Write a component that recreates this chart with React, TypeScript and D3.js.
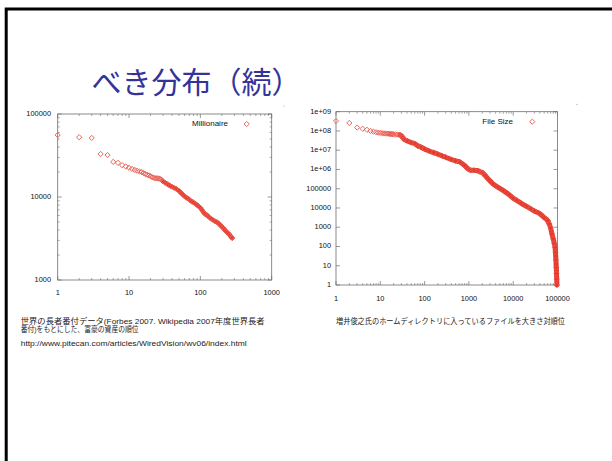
import React from "react";
import * as d3 from "d3";

const W = 612;
const H = 461;

// Millionaire (rank, assets)
const milRanks = [1,2,3,4,5,6,7,8,9,10,11,12,13,14,15,16,17,18,19,20,21,22,23,24,25,26,27,28,29,30,
  32,34,36,38,40,43,46,50,53,56,60,64,68,72,76,80,85,90,95,100,105,110,115,120,125,130,140,150,160,170,
  180,190,200,210,220,230,240,250,260,270,276,280];
const milValues = [55800,52500,51500,33000,32000,26500,25800,24200,23300,22500,21800,21200,20700,20300,20000,
  19400,18900,18500,18200,17800,17400,17100,16900,16800,16800,16700,16600,16300,15900,15400,
  14900,14400,14000,13600,13300,12900,12500,11900,11300,10800,10200,9800,9500,9100,8800,8600,8300,8000,7700,7400,
  7000,6600,6300,6100,6000,5800,5500,5300,5100,5000,4800,4600,4400,4200,4000,3850,3700,3600,3450,3300,3250,3200];

// File size (rank, bytes)
const fileRanks = [1,2,3,4,5,6,7,8,9,10,11,12,13,14,15,16,17,18,19,20,22,24,26,28,30,32,35,40,50,60,70,80,100,
  130,160,200,250,300,400,500,630,800,1000,1100,1300,1600,1800,2000,2300,2800,3500,4500,6000,8000,10000,12000,
  15000,20000,25000,30000,40000,50000,60000,65000,70000,75000,80000,85000,88000,90000,92000,94000,95000,96000,97000];
const fileValues = [3.3e8,2.6e8,1.5e8,1.3e8,1.15e8,1.0e8,9.2e7,8.6e7,8.2e7,7.9e7,7.7e7,7.5e7,7.4e7,7.3e7,7.2e7,7.1e7,
  7.0e7,6.9e7,6.8e7,6.7e7,6.6e7,6.5e7,6.4e7,6.2e7,5.6e7,4.6e7,3.6e7,3.1e7,2.5e7,2.2e7,1.7e7,1.5e7,1.15e7,
  8.8e6,7.5e6,6.2e6,5.0e6,4.3e6,3.3e6,2.8e6,2.4e6,1.6e6,1.0e6,9.0e5,9.0e5,8.6e5,7.5e5,7.0e5,5.0e5,3.0e5,1.8e5,1.2e5,
  8.0e4,5.0e4,3.2e4,2.5e4,1.8e4,1.2e4,9.0e3,7.0e3,5.0e3,3.2e3,2.2e3,1.5e3,900,450,250,140,90,50,20,8,4,2,1];

const milXTicks = [1, 10, 100, 1000];
const milXLabels = ["1", "10", "100", "1000"];
const milYTicks = [1000, 10000, 100000];
const milYLabels = ["1000", "10000", "100000"];

const fileXTicks = [1, 10, 100, 1000, 10000, 100000];
const fileXLabels = ["1", "10", "100", "1000", "10000", "100000"];
const fileYTicks = [1, 10, 100, 1000, 10000, 100000, 1e6, 1e7, 1e8, 1e9];
const fileYLabels = ["1", "10", "100", "1000", "10000", "100000", "1e+06", "1e+07", "1e+08", "1e+09"];

const RED = "#e4392b";
const MARK = "#e9584c";
const FONT = "'Liberation Sans', Arial, sans-serif";
const JFONT = "'Liberation Sans', 'Noto Sans CJK JP', sans-serif";

const diamond = (r: number) => `M0,${-r}L${r},0L0,${r}L${-r},0Z`;

function minorTicks(domain: [number, number]) {
  const out: number[] = [];
  for (let d = domain[0]; d < domain[1]; d *= 10) {
    for (let k = 2; k <= 9; k++) out.push(d * k);
  }
  return out;
}

type PlotProps = {
  x: d3.ScaleLogarithmic<number, number>;
  y: d3.ScaleLogarithmic<number, number>;
  xTicks: number[];
  xLabels: string[];
  yTicks: number[];
  yLabels: string[];
  yMinor: boolean;
  ranks: number[];
  values: number[];
  bandFrom: number;
  bandWidth: number;
  legend: string;
  legendY: number;
  legendTextX: number;
  legendMarkX: number;
  xLabelY: number;
  yLabelX: number;
};

function Plot(p: PlotProps) {
  const [x0, x1] = p.x.range();
  const [y0, y1] = p.y.range(); // y0 bottom, y1 top
  const xd = p.x.domain() as [number, number];
  const yd = p.y.domain() as [number, number];
  const frame = "#6e6e6e";
  const pts = p.ranks.map((r, i) => ({ r, v: p.values[i] }));
  const band = pts.filter((d) => d.r >= p.bandFrom);
  const line = d3
    .line<{ r: number; v: number }>()
    .x((d) => p.x(d.r))
    .y((d) => p.y(d.v))
    .curve(d3.curveMonotoneX);
  const xMin = minorTicks(xd);
  const yMin = p.yMinor ? minorTicks(yd) : [];
  return (
    <g>
      <rect x={x0} y={y1} width={x1 - x0} height={y0 - y1} fill="none" stroke={frame} strokeWidth={0.8} />
      {p.xTicks.map((t) => (
        <g key={"xt" + t} stroke={frame} strokeWidth={0.7}>
          <line x1={p.x(t)} x2={p.x(t)} y1={y0} y2={y0 - 4} />
          <line x1={p.x(t)} x2={p.x(t)} y1={y1} y2={y1 + 4} />
        </g>
      ))}
      {xMin.map((t) => (
        <g key={"xm" + t} stroke={frame} strokeWidth={0.6}>
          <line x1={p.x(t)} x2={p.x(t)} y1={y0} y2={y0 - 2} />
          <line x1={p.x(t)} x2={p.x(t)} y1={y1} y2={y1 + 2} />
        </g>
      ))}
      {p.yTicks.map((t) => (
        <g key={"yt" + t} stroke={frame} strokeWidth={0.7}>
          <line x1={x0} x2={x0 + 4} y1={p.y(t)} y2={p.y(t)} />
          <line x1={x1} x2={x1 - 4} y1={p.y(t)} y2={p.y(t)} />
        </g>
      ))}
      {yMin.map((t) => (
        <g key={"ym" + t} stroke={frame} strokeWidth={0.6}>
          <line x1={x0} x2={x0 + 2} y1={p.y(t)} y2={p.y(t)} />
          <line x1={x1} x2={x1 - 2} y1={p.y(t)} y2={p.y(t)} />
        </g>
      ))}
      {p.xTicks.map((t, i) => (
        <text key={"xl" + t} x={p.x(t)} y={p.xLabelY} textAnchor="middle" dominantBaseline="middle"
          fontFamily={FONT} fontSize={7.4} fill="#111">{p.xLabels[i]}</text>
      ))}
      {p.yTicks.map((t, i) => (
        <text key={"yl" + t} x={p.yLabelX} y={p.y(t)} textAnchor="end" dominantBaseline="middle"
          fontFamily={FONT} fontSize={7.4} fill="#111">{p.yLabels[i]}</text>
      ))}
      <path d={line(band) || ""} fill="none" stroke={RED} strokeWidth={p.bandWidth}
        strokeLinejoin="round" strokeLinecap="round" />
      {pts.map((d, i) => (
        <path key={"pt" + i} d={diamond(2.6)} transform={`translate(${p.x(d.r)},${p.y(d.v)})`}
          fill="none" stroke={MARK} strokeWidth={0.9} />
      ))}
      <text x={p.legendTextX} y={p.legendY} textAnchor="end" dominantBaseline="middle"
        fontFamily={FONT} fontSize={8} fill="#111">{p.legend}</text>
      <path d={diamond(2.6)} transform={`translate(${p.legendMarkX},${p.legendY})`}
        fill="none" stroke={MARK} strokeWidth={0.9} />
    </g>
  );
}

export default function App() {
  const xL = d3.scaleLog().domain([1, 1000]).range([57.7, 271.7]);
  const yL = d3.scaleLog().domain([1000, 100000]).range([280, 114]);
  const xR = d3.scaleLog().domain([1, 100000]).range([336, 557.5]);
  const yR = d3.scaleLog().domain([1, 1e9]).range([285, 111.7]);

  return (
    <svg width={W} height={H} style={{ position: "absolute", left: 0, top: 0, background: "#fff" }}>
      <rect x={0} y={0} width={W} height={H} fill="#fff" />
      <path d={`M6.2,${H + 5}L6.2,9L${W + 5},9`} fill="none" stroke="#000" strokeWidth={3} />
      <text x={91.5} y={93} fontFamily="'Noto Sans CJK JP', sans-serif" fontSize={30} fill="#333399">
        べき分布（続）
      </text>
      <circle cx={284} cy={106} r={0.6} fill="#999" />
      <circle cx={577} cy={104.3} r={0.6} fill="#999" />

      <Plot x={xL} y={yL} xTicks={milXTicks} xLabels={milXLabels} yTicks={milYTicks} yLabels={milYLabels}
        yMinor={true} ranks={milRanks} values={milValues} bandFrom={30} bandWidth={4}
        legend="Millionaire" legendY={124} legendTextX={228} legendMarkX={246.7}
        xLabelY={292.7} yLabelX={51} />
      <Plot x={xR} y={yR} xTicks={fileXTicks} xLabels={fileXLabels} yTicks={fileYTicks} yLabels={fileYLabels}
        yMinor={false} ranks={fileRanks} values={fileValues} bandFrom={28} bandWidth={5}
        legend="File Size" legendY={121.7} legendTextX={513} legendMarkX={532.3}
        xLabelY={299} yLabelX={331} />

      <g fontFamily={JFONT} fontSize={7.5} fill="#222">
        <text x={20.7} y={323.5} textLength={244} lengthAdjust="spacingAndGlyphs">
          世界の長者番付データ(Forbes 2007. Wikipedia 2007年度世界長者
        </text>
        <text x={20.7} y={332.2} textLength={118} lengthAdjust="spacingAndGlyphs">
          番付)をもとにした、富豪の資産の順位
        </text>
        <text x={20.7} y={346.2} textLength={226} lengthAdjust="spacingAndGlyphs">
          http://www.pitecan.com/articles/WiredVision/wv06/index.html
        </text>
        <text x={336} y={323.5} textLength={229} lengthAdjust="spacingAndGlyphs">
          増井俊之氏のホームディレクトリに入っているファイルを大きさ対順位
        </text>
      </g>
    </svg>
  );
}
